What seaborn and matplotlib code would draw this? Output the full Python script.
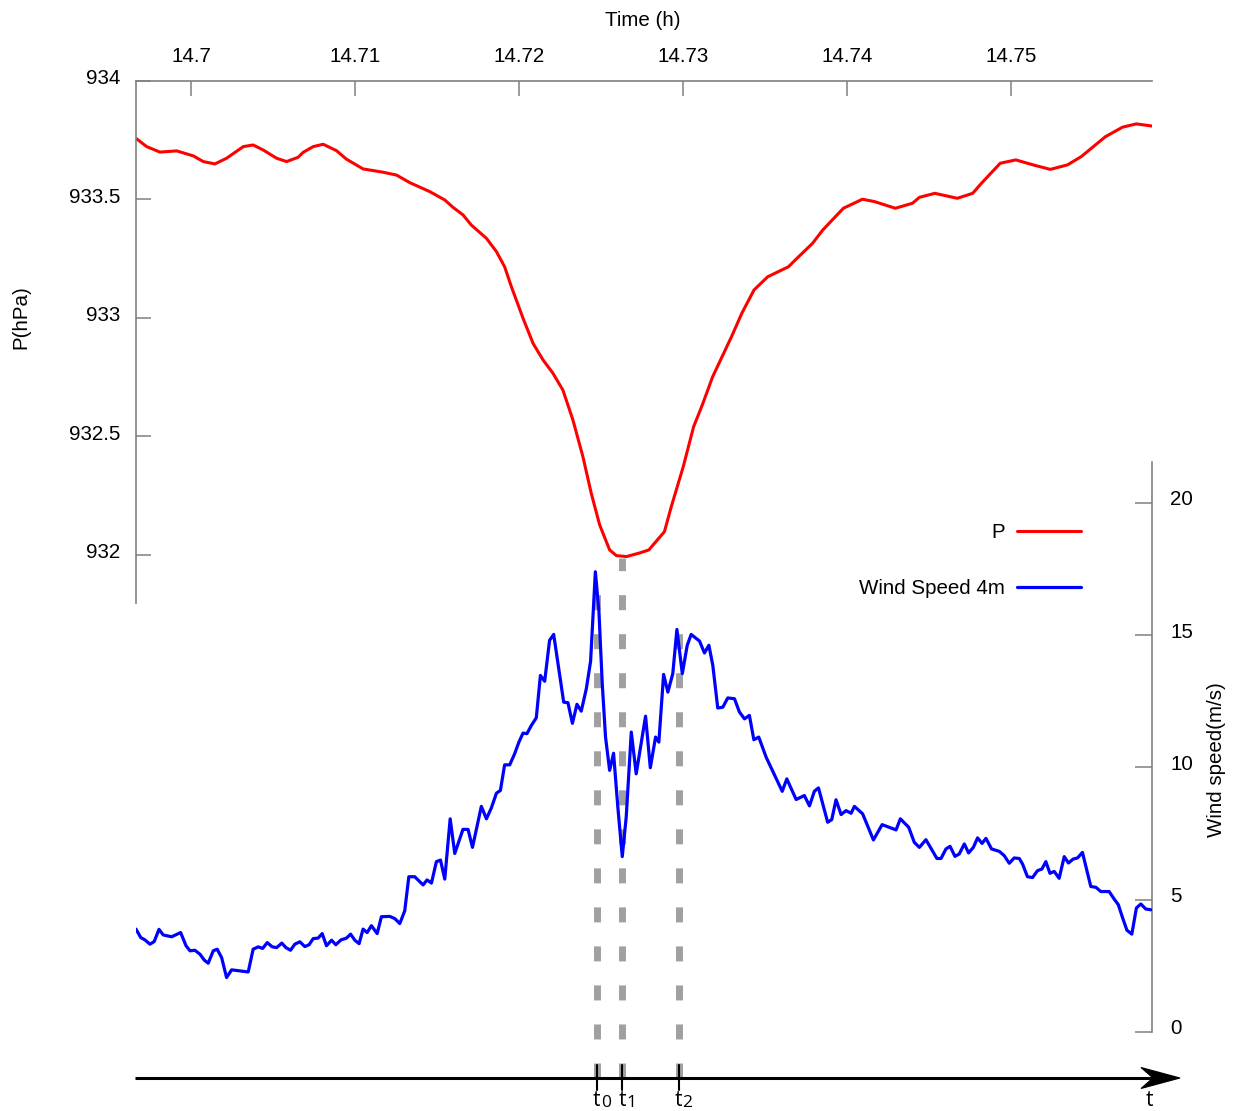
import numpy as np
import pandas as pd
import matplotlib
matplotlib.use("Agg")
import matplotlib.pyplot as plt
import seaborn as sns
from matplotlib.lines import Line2D
from matplotlib.patches import Polygon
from matplotlib import transforms

# ---------------- data ----------------
p_time = [14.69665, 14.69730, 14.69811, 14.69913, 14.70014, 14.70075, 14.70146, 14.70217, 14.70319, 14.70379,
          14.70440, 14.70522, 14.70583, 14.70653, 14.70684, 14.70745, 14.70806, 14.70887, 14.70948, 14.71049,
          14.71171, 14.71253, 14.71334, 14.71456, 14.71547, 14.71597, 14.71658, 14.71709, 14.71801, 14.71862,
          14.71912, 14.71953, 14.72024, 14.72085, 14.72146, 14.72206, 14.72267, 14.72328, 14.72389, 14.72440,
          14.72491, 14.72552, 14.72593, 14.72655, 14.72734, 14.72791, 14.72886, 14.72928, 14.73001, 14.73064,
          14.73117, 14.73180, 14.73295, 14.73358, 14.73432, 14.73516, 14.73642, 14.73684, 14.73789, 14.73851,
          14.73977, 14.74093, 14.74167, 14.74293, 14.74398, 14.74440, 14.74534, 14.74671, 14.74765, 14.74818,
          14.74933, 14.75028, 14.75133, 14.75238, 14.75343, 14.75427, 14.75574, 14.75678, 14.75762, 14.75858]
p_hpa = [933.758, 933.723, 933.700, 933.705, 933.684, 933.660, 933.650, 933.674, 933.723, 933.730,
         933.709, 933.674, 933.660, 933.678, 933.699, 933.723, 933.733, 933.706, 933.670, 933.629,
         933.615, 933.603, 933.571, 933.533, 933.498, 933.467, 933.435, 933.392, 933.336, 933.280,
         933.216, 933.132, 932.999, 932.893, 932.823, 932.767, 932.696, 932.570, 932.415, 932.260,
         932.127, 932.021, 931.997, 931.993, 932.008, 932.021, 932.098, 932.204, 932.373, 932.541,
         932.633, 932.752, 932.921, 933.020, 933.118, 933.174, 933.216, 933.245, 933.315, 933.371,
         933.463, 933.501, 933.491, 933.463, 933.484, 933.509, 933.526, 933.505, 933.526, 933.568,
         933.653, 933.667, 933.646, 933.627, 933.646, 933.681, 933.765, 933.805, 933.819, 933.810]

w_time = [14.69665, 14.69694, 14.69720, 14.69750, 14.69776, 14.69805, 14.69831, 14.69882, 14.69937, 14.69970,
          14.69994, 14.70024, 14.70055, 14.70081, 14.70105, 14.70136, 14.70160, 14.70187, 14.70217, 14.70248,
          14.70349, 14.70379, 14.70410, 14.70437, 14.70465, 14.70495, 14.70522, 14.70554, 14.70579, 14.70607,
          14.70633, 14.70664, 14.70694, 14.70720, 14.70745, 14.70775, 14.70800, 14.70826, 14.70857, 14.70883,
          14.70914, 14.70948, 14.70973, 14.70999, 14.71025, 14.71049, 14.71074, 14.71100, 14.71135, 14.71161,
          14.71212, 14.71242, 14.71273, 14.71303, 14.71328, 14.71364, 14.71415, 14.71439, 14.71466, 14.71496,
          14.71521, 14.71547, 14.71580, 14.71608, 14.71658, 14.71689, 14.71716, 14.71770, 14.71801, 14.71831,
          14.71862, 14.71886, 14.71912, 14.71943, 14.71973, 14.71999, 14.72024, 14.72048, 14.72075, 14.72105,
          14.72130, 14.72156, 14.72186, 14.72211, 14.72237, 14.72272, 14.72298, 14.72325, 14.72353, 14.72379,
          14.72410, 14.72436, 14.72465, 14.72487, 14.72507, 14.72527, 14.72552, 14.72576, 14.72602, 14.72629,
          14.72653, 14.72684, 14.72714, 14.72771, 14.72800, 14.72832, 14.72852, 14.72881, 14.72907, 14.72937,
          14.72962, 14.72995, 14.73025, 14.73049, 14.73100, 14.73130, 14.73157, 14.73181, 14.73211, 14.73242,
          14.73272, 14.73313, 14.73343, 14.73374, 14.73404, 14.73431, 14.73461, 14.73506, 14.73604, 14.73632,
          14.73689, 14.73739, 14.73770, 14.73800, 14.73825, 14.73881, 14.73906, 14.73932, 14.73963, 14.73993,
          14.74024, 14.74044, 14.74094, 14.74160, 14.74213, 14.74298, 14.74324, 14.74375, 14.74409, 14.74440,
          14.74480, 14.74547, 14.74572, 14.74602, 14.74627, 14.74657, 14.74683, 14.74714, 14.74740, 14.74769,
          14.74795, 14.74822, 14.74846, 14.74880, 14.74927, 14.74957, 14.74988, 14.75018, 14.75049, 14.75069,
          14.75099, 14.75130, 14.75160, 14.75187, 14.75211, 14.75236, 14.75262, 14.75292, 14.75323, 14.75349,
          14.75378, 14.75404, 14.75434, 14.75485, 14.75516, 14.75546, 14.75597, 14.75627, 14.75653, 14.75678,
          14.75705, 14.75735, 14.75763, 14.75790, 14.75820, 14.75851]
w_speed = [3.89, 3.57, 3.48, 3.32, 3.42, 3.88, 3.67, 3.60, 3.76, 3.26,
           3.07, 3.09, 2.94, 2.72, 2.60, 3.07, 3.13, 2.81, 2.06, 2.35,
           2.27, 3.13, 3.22, 3.16, 3.38, 3.22, 3.19, 3.36, 3.19, 3.09,
           3.32, 3.41, 3.23, 3.30, 3.53, 3.55, 3.72, 3.26, 3.47, 3.30,
           3.48, 3.55, 3.70, 3.47, 3.34, 3.89, 3.76, 4.02, 3.72, 4.36,
           4.37, 4.29, 4.10, 4.58, 5.87, 5.87, 5.56, 5.75, 5.63, 6.44,
           6.50, 5.78, 8.06, 6.75, 7.66, 7.66, 6.98, 8.53, 8.06, 8.47,
           9.03, 9.13, 10.10, 10.10, 10.52, 10.96, 11.30, 11.28, 11.59, 11.88,
           13.48, 13.26, 14.81, 15.03, 13.93, 12.47, 12.45, 11.67, 12.39, 12.13,
           12.98, 14.02, 17.40, 15.88, 13.17, 11.15, 9.89, 10.54, 8.50, 6.63,
           8.12, 11.34, 9.76, 11.94, 9.99, 11.15, 10.96, 13.52, 12.85, 13.55,
           15.22, 13.55, 14.62, 15.03, 14.78, 14.33, 14.62, 13.86, 12.25, 12.28,
           12.63, 12.60, 12.10, 11.84, 11.97, 11.05, 11.15, 10.39, 9.10, 9.57,
           8.79, 8.94, 8.55, 9.10, 9.23, 7.93, 8.03, 8.78, 8.22, 8.37,
           8.27, 8.53, 8.25, 7.26, 7.84, 7.64, 8.06, 7.74, 7.17, 6.98,
           7.27, 6.56, 6.56, 6.92, 7.02, 6.64, 6.73, 7.11, 6.77, 6.98,
           7.34, 7.13, 7.32, 6.92, 6.83, 6.67, 6.38, 6.58, 6.56, 6.35,
           5.87, 5.84, 6.10, 6.16, 6.44, 6.00, 6.07, 5.81, 6.63, 6.39,
           6.54, 6.58, 6.79, 5.50, 5.47, 5.31, 5.31, 5.03, 4.81, 4.33,
           3.85, 3.70, 4.69, 4.84, 4.65, 4.62]

event_times = [14.72473, 14.72627, 14.72972]
event_subscripts = ["0", "1", "2"]
event_tops = [16.6, 17.92, 15.2]          # wind-axis value where each marker line begins

x_ticks = [14.70, 14.71, 14.72, 14.73, 14.74, 14.75]
x_tick_labels = ["14.7", "14.71", "14.72", "14.73", "14.74", "14.75"]
p_ticks = [932.0, 932.5, 933.0, 933.5, 934.0]
p_tick_labels = ["932", "932.5", "933", "933.5", "934"]
w_ticks = [0, 5, 10, 15, 20]
w_tick_labels = ["0", "5", "10", "15", "20"]

x_range = (14.69665, 14.75858)
p_range = (931.797, 934.0)
w_range = (0, 21.55)

# ---------------- style ----------------
sns.set_style("white")
plt.rcParams["font.family"] = ["Liberation Sans", "DejaVu Sans"]
plt.rcParams["text.color"] = "black"
plt.rcParams["axes.labelcolor"] = "black"
FS = 14.8
SPINE = "#808080"

W, H = 1234, 1111
fig = plt.figure(figsize=(W / 100, H / 100), dpi=100)

def fx(px):
    return px / W

def fy(py):
    return 1 - py / H

ax1 = fig.add_axes([fx(136), fy(603), fx(1152) - fx(136), fy(81) - fy(603)])
ax2 = fig.add_axes([fx(136), fy(1032), fx(1152) - fx(136), fy(462) - fy(1032)])
for ax in (ax1, ax2):
    ax.patch.set_alpha(0)
    ax.set_xlim(*x_range)
ax1.set_ylim(*p_range)
ax2.set_ylim(*w_range)

df_p = pd.DataFrame({"time": p_time, "P": p_hpa})
df_w = pd.DataFrame({"time": w_time, "W": w_speed})
sns.lineplot(data=df_p, x="time", y="P", ax=ax1, color="#ff0000", linewidth=2.2,
             sort=False, estimator=None, legend=False)
sns.lineplot(data=df_w, x="time", y="W", ax=ax2, color="#0000ff", linewidth=2.3,
             sort=False, estimator=None, legend=False, zorder=3)

# spines
for s in ("bottom", "right"):
    ax1.spines[s].set_visible(False)
for s in ("left", "top"):
    ax1.spines[s].set_color(SPINE)
    ax1.spines[s].set_linewidth(1.2)
for s in ("bottom", "left", "top"):
    ax2.spines[s].set_visible(False)
ax2.spines["right"].set_color(SPINE)
ax2.spines["right"].set_linewidth(1.2)

# ticks
ax1.xaxis.tick_top()
ax1.set_xticks(x_ticks)
ax1.set_xticklabels(x_tick_labels)
ax1.set_yticks(p_ticks)
ax1.set_yticklabels(p_tick_labels)
ax1.tick_params(axis="x", direction="in", length=11, width=1.1, color=SPINE,
                pad=10.5, labelsize=FS, labelcolor="black", top=True, bottom=False)
ax1.tick_params(axis="y", direction="in", length=11, width=1.1, color=SPINE,
                pad=11, labelsize=FS, labelcolor="black", left=True, right=False)

ax2.set_xticks([])
ax2.yaxis.tick_right()
ax2.set_yticks(w_ticks)
ax2.set_yticklabels(w_tick_labels)
ax2.tick_params(axis="y", direction="in", length=12, width=1.1, color=SPINE,
                pad=13, labelsize=FS, labelcolor="black", right=True, left=False)

# y tick labels sit a few pixels above their ticks in the reference
up = transforms.ScaledTranslation(0, 4 / 100, fig.dpi_scale_trans)
for lab in ax1.get_yticklabels():
    lab.set_transform(lab.get_transform() + up)
up2 = transforms.ScaledTranslation(0, 5 / 100, fig.dpi_scale_trans)
for lab in ax2.get_yticklabels():
    lab.set_transform(lab.get_transform() + up2)

# axis labels
ax1.set_xlabel("Time (h)", fontsize=FS)
ax1.xaxis.set_label_position("top")
ax1.xaxis.label.set_va("center")
ax1.xaxis.set_label_coords((643 - 136) / 1016, (603 - 20) / 522)
ax1.set_ylabel("P(hPa)", fontsize=FS)
ax1.yaxis.label.set_va("center")
ax1.yaxis.set_label_coords((21 - 136) / 1016, (603 - 317) / 522)
ax2.set_ylabel("Wind speed(m/s)", fontsize=FS, rotation=90)
ax2.yaxis.set_label_position("right")
ax2.yaxis.label.set_va("center")
ax2.yaxis.set_label_coords((1217 - 136) / 1016, (1032 - 760) / 570)
ax2.set_xlabel("")

# legend (label left of line)
handles = [Line2D([], [], color="#ff0000", lw=2.2), Line2D([], [], color="#0000ff", lw=2.3)]
fig.legend(handles, ["P", "Wind Speed 4m"], loc="upper right",
           bbox_to_anchor=(fx(1081), fy(523)), frameon=False, markerfirst=False,
           handlelength=3.1, handletextpad=0.6, labelspacing=1.8, borderpad=0,
           borderaxespad=0, fontsize=FS, labelcolor="black")

# event marker lines (gray dashed), from the time arrow up to the event
arrow_y = fy(1078)
arrow_val = ax2.transData.inverted().transform(fig.transFigure.transform((0, arrow_y)))[1]
for t, top in zip(event_times, event_tops):
    ax2.plot([t, t], [arrow_val, top], color="#a0a0a0", lw=5,
             ls=(0, (2.16, 3.46)), dash_capstyle="butt", clip_on=False, zorder=1)

# time arrow at the bottom
fig.add_artist(Line2D([fx(135), fx(1156)], [arrow_y, arrow_y], transform=fig.transFigure,
                      color="black", lw=2.2, solid_capstyle="butt"))
head = Polygon([[fx(1180), fy(1078)], [fx(1141), fy(1067.5)], [fx(1153), fy(1078)],
                [fx(1141), fy(1088.5)]], closed=True, transform=fig.transFigure,
               facecolor="black", edgecolor="black", lw=0.8)
fig.add_artist(head)
bt = transforms.blended_transform_factory(ax2.transData, fig.transFigure)
TFONT = ["Open Sans", "DejaVu Sans"]
for t, sub in zip(event_times, event_subscripts):
    fig.add_artist(Line2D([t, t], [fy(1065), fy(1090)], transform=bt, color="black", lw=1.5))
    fig.text(t, fy(1090), "t", transform=bt, ha="center", va="top", fontsize=15, family=TFONT)
    tsub = transforms.offset_copy(bt, fig=fig, x=4, y=-5, units="dots")
    fig.text(t, fy(1090), sub, transform=tsub, ha="left", va="top", fontsize=12.5, family=TFONT)
fig.text(fx(1149), fy(1090), "t", ha="center", va="top", fontsize=15, family=TFONT)

fig.savefig("out.png", dpi=100)
